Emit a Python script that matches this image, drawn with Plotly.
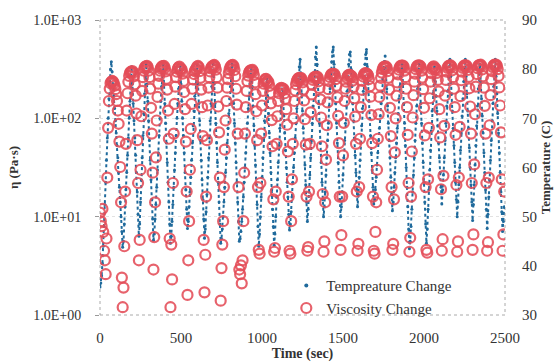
import plotly.graph_objects as go

STEP_S = 5  # sampling interval of the logged data (s)

# Temperature (deg C), one value every 5 s, grouped by heating/cooling cycle
temperature_c = [
    35.7, 36.5, 38, 40.5, 44, 48, 52.5, 57, 61.5, 66, 70, 74, 77.5, 80,
    81.5, 79.5, 77, 74.5, 72, 69.5, 67, 64.5, 62, 59, 56, 53, 50, 47, 43.8,
    45, 48.5, 52, 55.5, 59, 62.5, 66, 70, 73.5, 77,
    80.5, 77, 73, 69.5, 66, 62.5, 59, 55, 50.5, 46,
    48.5, 53, 57.5, 62, 66.5, 71, 75, 78.5,
    81, 77, 73.5, 69.5, 65.5, 61.5, 57.5, 53.5, 49.5, 45.2,
    46.5, 49.5, 52.5, 56, 59.5, 63, 66.5, 70, 73.5, 76.5, 79,
    81, 77, 73, 69, 65, 61, 57, 53, 48.5, 44.6,
    46, 49, 52.5, 56, 59.5, 63, 66.5, 70, 73, 76, 78.5,
    80.5, 77, 73.5, 70, 66.5, 63, 59, 55.5, 51.5, 47.6,
    49, 52, 55, 58, 61.5, 65, 68.5, 71.5, 74.5, 77, 79,
    81, 77, 73, 69.5, 65.5, 61.5, 57.5, 53.5, 49.5, 45.6,
    47.5, 51, 54.5, 58, 62, 66, 69.5, 73, 76.5, 79,
    81, 77, 73, 69, 65, 61, 57, 53, 48.5, 44.6,
    45.5, 47.5, 50, 53, 56, 59, 62, 65, 68, 71, 74, 76.5, 79,
    81, 77, 73, 69, 65, 61, 57, 53, 49, 45,
    45.5, 47, 49, 51.5, 54, 57, 60, 63, 66, 69, 72, 74.5, 77, 79,
    80.5, 76.5, 72.5, 68.5, 64.5, 60.5, 56.5, 52.5, 48, 44,
    46.5, 50, 54, 58, 62, 66, 69.5, 73, 76,
    78, 74.5, 71, 67, 63, 59, 55.5, 51.5, 48, 44.2,
    46.5, 50, 54, 57.5, 61, 64.5, 68, 71.5, 74.5,
    77, 74, 70.5, 67, 63.5, 60, 57, 54, 50.5, 47.3,
    48.5, 51, 54, 57, 60, 63, 66, 69, 72, 75, 78, 80.5,
    82, 78.5, 75, 71.5, 68, 64.5, 60.5, 56.5, 53, 49,
    51.5, 55, 58.5, 62, 65.5, 69, 72.5, 76, 79.5, 82.5,
    84.5, 81, 77, 73, 69, 65, 61, 57, 53.5, 50,
    52, 55, 58.5, 62, 65.5, 69, 72.5, 76, 79, 81.5, 83.5,
    84.5, 81, 77, 73, 69, 65, 61, 57, 53.5, 50,
    52, 55, 58.5, 62, 65.5, 69, 72.5, 75.5, 78.5, 81, 83,
    83.5, 80, 76.5, 73, 69.5, 66, 62.5, 59, 55.5, 52,
    54.5, 58, 61.5, 65, 68.5, 72, 75.5, 78.5, 81, 83,
    84, 80.5, 77, 73.5, 70, 66.5, 63, 59.5, 56, 52.6,
    53.5, 55.5, 58, 60.5, 63, 65.5, 68, 70.5, 73, 75.5, 78, 80, 81.5,
    82.7, 79.5, 76, 72.5, 69, 65.5, 62, 58, 54.5, 51.2,
    53, 56, 59, 62, 65, 68, 71, 74, 76.5, 78.5, 80,
    81, 77, 73, 69, 64.5, 60, 56, 52, 47.5, 43.5,
    45, 48, 51.5, 55, 58.5, 62, 65.5, 69, 72.5, 76, 79,
    81, 77, 73, 69, 65, 61, 57, 53, 48.5, 44.6,
    47.5, 51.5, 55.5, 59.5, 63.5, 67.5, 71.5, 75, 78,
    80.5, 77.5, 74.5, 71.5, 68.5, 65, 62, 59, 56, 52.6,
    55.5, 58.5, 62, 65.5, 69, 72.5, 75.5, 78.5, 80.5,
    82, 78.5, 75, 71.5, 68, 64.5, 61, 57, 53.5, 50,
    53, 56.5, 60, 63.5, 67, 70.5, 74, 77.5, 80,
    82, 78.5, 75, 71.5, 68, 64, 60, 56.5, 53, 49.2,
    52.5, 56.5, 60.5, 64.5, 68.5, 72.5, 76, 79,
    81, 77.5, 74, 70.5, 67, 63, 59, 55.5, 51.5, 47.6,
    50.5, 54, 57.5, 61.5, 65.5, 69.5, 73, 76.5, 79.5,
    82, 78.5, 75, 71, 67, 63, 59, 55, 51, 47, 49, 52,
]

# Viscosity (Pa.s), same 5 s sampling
viscosity_pa_s = [
    11, 9, 8, 12, 7, 4.5, 3.6, 2.6, 6, 25, 80, 150, 200, 228,
    235, 240, 236, 228, 215, 198, 176, 150, 120, 88, 58, 32, 14, 2.4, 1.2,
    1.9, 5, 18, 55, 120, 180, 235, 270, 290, 298,
    296, 303, 292, 268, 222, 170, 112, 60, 22, 3.6,
    5.8, 30, 105, 190, 262, 305, 325, 336,
    338, 342, 330, 305, 262, 200, 128, 70, 28, 2.9,
    6.2, 14, 40, 95, 165, 225, 270, 305, 322, 333, 339,
    336, 341, 326, 300, 252, 196, 120, 62, 6, 1.2,
    5.2, 2.3, 22, 70, 140, 210, 262, 298, 318, 330, 336,
    315, 320, 310, 285, 240, 185, 124, 58, 18, 1.6,
    3.6, 9, 30, 78, 140, 200, 248, 282, 302, 314, 320,
    336, 341, 330, 302, 258, 196, 130, 66, 5.8, 1.7,
    4.1, 16, 60, 135, 205, 262, 300, 322, 334, 340,
    344, 349, 336, 312, 262, 205, 132, 72, 25, 1.4,
    3, 5.2, 9, 20, 48, 95, 150, 205, 250, 288, 315, 332, 343,
    345, 349, 338, 310, 268, 200, 138, 70, 20, 2.9,
    2.6, 3.2, 2.1, 3.6, 9, 28, 70, 130, 190, 238, 272, 292, 302, 308,
    306, 311, 300, 276, 232, 176, 118, 60, 20, 4.6,
    4.2, 22, 70, 135, 190, 225, 242, 250, 252,
    236, 240, 232, 214, 182, 142, 96, 52, 15, 4.4,
    4.8, 18, 55, 105, 150, 180, 195, 202, 204,
    197, 201, 195, 180, 158, 124, 86, 46, 16, 4.5,
    4.2, 9, 24, 55, 100, 150, 192, 222, 240, 250, 255, 258,
    255, 258, 250, 232, 196, 152, 98, 54, 16, 4.5,
    4.9, 18, 55, 115, 175, 220, 246, 258, 263, 266,
    262, 266, 258, 238, 204, 156, 102, 52, 17, 4.4,
    5.6, 14, 38, 85, 145, 198, 238, 262, 276, 282, 284,
    280, 283, 274, 250, 214, 164, 106, 56, 16, 4.6,
    6.5, 16, 42, 90, 150, 200, 236, 258, 270, 276, 279,
    272, 270, 264, 242, 208, 160, 104, 55, 18, 4.5,
    5.3, 20, 62, 130, 195, 240, 266, 280, 286, 288,
    284, 282, 272, 250, 212, 166, 108, 56, 16, 4.5,
    4.2, 7, 14, 30, 62, 110, 165, 215, 258, 292, 316, 330, 336,
    334, 337, 328, 302, 258, 196, 128, 66, 20, 4.6,
    5.3, 15, 45, 100, 170, 232, 280, 312, 330, 340, 344,
    341, 344, 334, 306, 262, 200, 130, 68, 22, 4.4,
    6.1, 16, 46, 102, 172, 236, 284, 316, 334, 342, 346,
    342, 343, 333, 306, 260, 198, 128, 67, 20, 4.6,
    4.3, 24, 80, 160, 236, 288, 318, 332, 338,
    320, 323, 314, 290, 246, 188, 124, 64, 19, 4.5,
    5.9, 26, 84, 170, 246, 298, 326, 338, 344,
    343, 345, 335, 308, 262, 200, 130, 68, 21, 4.4,
    5.6, 25, 82, 168, 244, 298, 326, 340, 345,
    343, 346, 336, 310, 264, 202, 132, 70, 22, 4.6,
    6.6, 34, 110, 210, 282, 324, 342, 348,
    348, 351, 340, 314, 268, 205, 134, 70, 22, 4.5,
    5.5, 25, 85, 172, 250, 302, 332, 346, 351,
    350, 352, 342, 316, 270, 206, 135, 72, 24, 4.5, 6.6, 18,
]

time_s = [i * STEP_S for i in range(len(temperature_c))]

visc_tickvals = [1, 10, 100, 1000]
visc_ticktext = ["1.0E+00", "1.0E+01", "1.0E+02", "1.0E+03"]
temp_tickvals = [30, 40, 50, 60, 70, 80, 90]
time_tickvals = [0, 500, 1000, 1500, 2000, 2500]

SERIF = "Liberation Serif, Times New Roman, serif"
TXT = "#333333"
BLUE = "#1f6a9c"
RED = "rgba(228,76,88,0.88)"

fig = go.Figure()
# temperature record (dotted trace of the logged points)
fig.add_trace(go.Scatter(
    x=time_s, y=temperature_c, mode="lines+markers", name="Tempreature Change",
    yaxis="y", showlegend=False, legendgroup="T",
    line=dict(color=BLUE, width=2, dash="dot"),
    marker=dict(size=3, color=BLUE),
))
# legend entry (marker only)
fig.add_trace(go.Scatter(
    x=[None], y=[None], mode="markers", name="Tempreature Change",
    legendgroup="T", yaxis="y", marker=dict(size=4, color=BLUE),
))
fig.add_trace(go.Scatter(
    x=time_s, y=viscosity_pa_s, mode="markers", name="Viscosity Change",
    yaxis="y2",
    marker=dict(symbol="circle-open", size=10, color=RED,
                line=dict(width=2.2, color=RED)),
))

fig.update_layout(
    width=557, height=364,
    margin=dict(l=100, r=52, t=20, b=49, autoexpand=False),
    paper_bgcolor="white", plot_bgcolor="white",
    font=dict(family=SERIF, color=TXT, size=14),
    showlegend=True,
    legend=dict(x=0.46, y=0.155, xanchor="left", yanchor="top",
                bgcolor="rgba(0,0,0,0)", font=dict(size=15, color=TXT),
                itemwidth=30, tracegroupgap=0),
    xaxis=dict(range=[0, 2500], tickvals=time_tickvals, showgrid=False, automargin=False,
               zeroline=False, showline=False, ticks="", ticklabelstandoff=12,
               tickfont=dict(size=15, color=TXT),
               title=dict(text="<b>Time (sec)</b>", font=dict(size=14, color=TXT), standoff=2)),
    yaxis=dict(range=[30, 90], tickvals=temp_tickvals, side="right", automargin=False,
               showgrid=False, zeroline=False, showline=False, ticks="",
               ticklabelstandoff=16,
               tickfont=dict(size=15, color=TXT),
               title=dict(text="<b>Temperature (C)</b>", font=dict(size=13, color=TXT), standoff=4)),
    yaxis2=dict(type="log", range=[0, 3], tickvals=visc_tickvals, ticktext=visc_ticktext,
                side="left", overlaying="y", showgrid=True, gridcolor="#e2e2e2", automargin=False,
                griddash="dot", gridwidth=1, zeroline=False, showline=False,
                ticks="outside", ticklen=4, tickcolor="#999", ticklabelstandoff=11,
                tickfont=dict(size=14, color=TXT),
                title=dict(text="<b>η (Pa·s)</b>", font=dict(size=13, color=TXT), standoff=11)),
    shapes=[dict(type="rect", xref="paper", yref="paper", x0=0, y0=0, x1=1, y1=1,
                 line=dict(color="#aaaaaa", width=1, dash="dot"), layer="below")],
)

fig.write_html("out.html")
